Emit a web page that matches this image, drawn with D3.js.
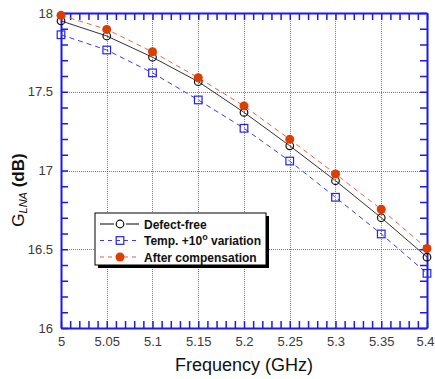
<!DOCTYPE html>
<html>
<head>
<meta charset="utf-8">
<script src="https://cdn.jsdelivr.net/npm/d3@7"></script>
<style>
  html, body { margin: 0; padding: 0; background: #fff; }
  svg { display: block; font-family: "Liberation Sans", Arial, sans-serif; }
</style>
</head>
<body>
<div id="chart"></div>
<script>
const freqs = [5.0, 5.05, 5.1, 5.15, 5.2, 5.25, 5.3, 5.35, 5.4];
const defectFree = [17.95, 17.854, 17.719, 17.564, 17.369, 17.157, 16.935, 16.70, 16.45];
const tempVar = [17.862, 17.765, 17.62, 17.448, 17.268, 17.06, 16.83, 16.597, 16.347];
const afterComp = [17.985, 17.896, 17.754, 17.589, 17.41, 17.198, 16.978, 16.754, 16.505];
const xTicks = [5, 5.05, 5.1, 5.15, 5.2, 5.25, 5.3, 5.35, 5.4];
const yTicks = [16, 16.5, 17, 17.5, 18];
const seriesNames = ['Defect-free', 'Temp. +10', 'After compensation'];

const W = 435, H = 379;
const margin = { top: 13, right: 8, bottom: 51, left: 61 };
const width = W - margin.left - margin.right;
const height = H - margin.top - margin.bottom;
const axisBlue = '#1a1aee';

const svg = d3.select('#chart').append('svg')
  .attr('width', W).attr('height', H);
const g = svg.append('g').attr('transform', `translate(${margin.left},${margin.top})`);

const x = d3.scaleLinear().domain([5, 5.4]).range([0, width]);
const y = d3.scaleLinear().domain([16, 18]).range([height, 0]);

// grid
g.append('g').selectAll('line').data(xTicks.slice(1, -1)).enter().append('line')
  .attr('x1', d => Math.round(x(d)) + 0.5).attr('x2', d => Math.round(x(d)) + 0.5).attr('y1', 0).attr('y2', height)
  .attr('stroke', '#3b3bff').attr('stroke-opacity', 0.75).attr('stroke-width', 1).attr('stroke-dasharray', '1,1');
g.append('g').selectAll('line').data(yTicks.slice(1, -1)).enter().append('line')
  .attr('y1', d => Math.round(y(d)) + 0.5).attr('y2', d => Math.round(y(d)) + 0.5).attr('x1', 0).attr('x2', width)
  .attr('stroke', '#3b3bff').attr('stroke-opacity', 0.75).attr('stroke-width', 1).attr('stroke-dasharray', '1,1');

// axes with inward ticks
const xMinor = d3.range(0, 41).map(i => 5 + i * 0.01);
const yMinor = d3.range(0, 21).map(i => 16 + i * 0.1);

function styleAxis(sel) {
  sel.select('.domain').attr('stroke', axisBlue).attr('stroke-width', 2);
  sel.selectAll('.tick line').attr('stroke', axisBlue).attr('stroke-width', 1.5);
}

const xb = g.append('g').attr('transform', `translate(0,${height})`)
  .call(d3.axisBottom(x).tickValues(xMinor).tickSizeInner(-7).tickSizeOuter(0).tickFormat(''));
styleAxis(xb);
const xl = g.append('g').attr('transform', `translate(0,${height})`)
  .call(d3.axisBottom(x).tickValues(xTicks).tickSize(0).tickPadding(9).tickFormat(d3.format('')));
xl.select('.domain').remove();
xl.selectAll('.tick text').attr('fill', '#3a3a3a').style('font-size', '13px')
  .attr('dx', d => d === 5.4 ? -2 : 0);

const xt = g.append('g')
  .call(d3.axisTop(x).tickValues(xMinor).tickSizeInner(-7).tickSizeOuter(0).tickFormat(''));
styleAxis(xt);

const yl = g.append('g')
  .call(d3.axisLeft(y).tickValues(yMinor).tickSizeInner(-7).tickSizeOuter(0).tickFormat(''));
styleAxis(yl);
const ylab = g.append('g')
  .call(d3.axisLeft(y).tickValues(yTicks).tickSize(0).tickPadding(8).tickFormat(d3.format('')));
ylab.select('.domain').remove();
ylab.selectAll('.tick text').attr('fill', '#3a3a3a').style('font-size', '13px');

const yr = g.append('g').attr('transform', `translate(${width},0)`)
  .call(d3.axisRight(y).tickValues(yMinor).tickSizeInner(-7).tickSizeOuter(0).tickFormat(''));
styleAxis(yr);

// series
const series = [
  { vals: defectFree, color: '#333', dash: null, marker: 'circle' },
  { vals: tempVar, color: '#3a3aee', dash: '5,4', marker: 'square' },
  { vals: afterComp, color: '#e8643a', dash: '5,4', marker: 'dot' }
];

const line = d3.line().x((d, i) => x(freqs[i])).y(d => y(d));

function drawMarker(sel, s, cx, cy) {
  if (s.marker === 'circle') {
    sel.append('circle').attr('cx', cx).attr('cy', cy).attr('r', 3.8)
      .attr('fill', 'none').attr('stroke', '#111').attr('stroke-width', 1.2);
  } else if (s.marker === 'square') {
    sel.append('rect').attr('x', cx - 3.8).attr('y', cy - 3.8).attr('width', 7.6).attr('height', 7.6)
      .attr('fill', 'none').attr('stroke', '#2222ee').attr('stroke-width', 1.2);
  } else {
    sel.append('circle').attr('cx', cx).attr('cy', cy).attr('r', 4.5)
      .attr('fill', '#dd3d00');
  }
}

series.forEach(s => {
  g.append('path').datum(s.vals).attr('d', line)
    .attr('fill', 'none').attr('stroke', s.color).attr('stroke-width', 1)
    .attr('stroke-dasharray', s.dash);
});
series.forEach(s => {
  const mg = g.append('g');
  s.vals.forEach((v, i) => drawMarker(mg, s, x(freqs[i]), y(v)));
});

// legend
const lg = svg.append('g').attr('transform', 'translate(95,213)');
lg.append('rect').attr('x', 3).attr('y', 3).attr('width', 171).attr('height', 52).attr('fill', '#000');
lg.append('rect').attr('x', 0).attr('y', 0).attr('width', 171).attr('height', 52)
  .attr('fill', '#fff').attr('stroke', '#000').attr('stroke-width', 1);
series.forEach((s, i) => {
  const ly = 11 + i * 16.5;
  lg.append('line').attr('x1', 5).attr('x2', 44).attr('y1', ly).attr('y2', ly)
    .attr('stroke', i === 0 ? '#555' : s.color).attr('stroke-width', i === 0 ? 1.5 : 1.2)
    .attr('stroke-dasharray', s.dash ? '4,4' : null);
  const mk = lg.append('g');
  if (i === 0) {
    mk.append('rect').attr('x', 19).attr('y', ly - 4).attr('width', 12).attr('height', 8).attr('fill', '#fff');
  }
  drawMarker(mk, s, 25, ly);
  const t = lg.append('text').attr('x', 49).attr('y', ly + 4.5)
    .style('font-size', '12px').style('font-weight', 'bold').attr('fill', '#111');
  if (i === 1) {
    t.append('tspan').text('Temp. +10');
    t.append('tspan').attr('dy', -5).style('font-size', '9px').text('o');
    t.append('tspan').attr('dy', 5).text(' variation');
  } else {
    t.text(seriesNames[i]);
  }
});

// axis titles
svg.append('text').attr('x', margin.left + width / 2).attr('y', 371)
  .attr('text-anchor', 'middle').style('font-size', '18px').attr('fill', '#111')
  .text('Frequency (GHz)');

const yt = svg.append('text').attr('transform', 'translate(24,190) rotate(-90)')
  .attr('text-anchor', 'middle').attr('fill', '#111').style('font-size', '17px');
yt.append('tspan').text('G');
yt.append('tspan').attr('dy', 3).style('font-size', '11px').style('font-style', 'italic').text('LNA');
yt.append('tspan').attr('dy', -3).style('font-weight', 'bold').text(' (dB)');
</script>
</body>
</html>
